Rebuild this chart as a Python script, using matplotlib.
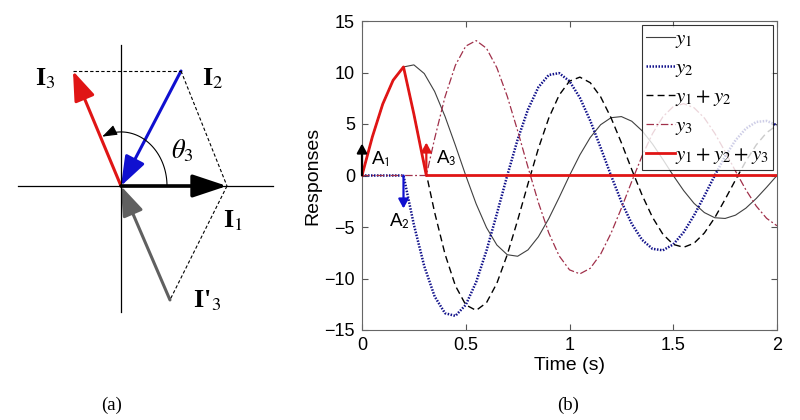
import numpy as np
import matplotlib.pyplot as plt
from matplotlib.patches import FancyArrowPatch
from matplotlib.path import Path

plt.rcParams['mathtext.fontset'] = 'stix'
plt.rcParams['font.family'] = ['Liberation Sans', 'DejaVu Sans']

# ---- panel (a): current phasors (units: |I1| = 1) ----
I1 = [1.0, 0.0]
I2 = [0.566, 1.085]
I3 = [-0.453, 1.085]
I3p = [0.462, -1.075]          # tail of I'3
h_axis = [-0.97, 1.43]
v_axis = [-1.19, 1.33]
theta_radii = [0.434, 0.51]
theta_end = 114                # degrees

# ---- panel (b): responses ----
t = [0.0, 0.05, 0.10, 0.15, 0.20, 0.25, 0.30, 0.35, 0.40, 0.45, 0.50,
     0.55, 0.60, 0.65, 0.70, 0.75, 0.80, 0.85, 0.90, 0.95, 1.00,
     1.05, 1.10, 1.15, 1.20, 1.25, 1.30, 1.35, 1.40, 1.45, 1.50,
     1.55, 1.60, 1.65, 1.70, 1.75, 1.80, 1.85, 1.90, 1.95, 2.00]
y1 = [0, 3.76, 6.94, 9.25, 10.54, 10.74, 9.90, 8.16, 5.74, 2.93, 0,
      -2.75, -5.06, -6.75, -7.69, -7.84, -7.22, -5.95, -4.19, -2.14, 0,
      2.00, 3.69, 4.93, 5.61, 5.72, 5.27, 4.34, 3.06, 1.56, 0,
      -1.46, -2.70, -3.60, -4.10, -4.17, -3.85, -3.17, -2.23, -1.14, 0]
y2 = [0, 0, 0, 0, 0, -4.78, -8.80, -11.74, -13.37, -13.63, -12.56,
      -10.35, -7.29, -3.71, 0, 3.49, 6.42, 8.57, 9.76, 9.94, 9.16,
      7.55, 5.32, 2.71, 0, -2.54, -4.69, -6.25, -7.12, -7.26, -6.69,
      -5.51, -3.88, -1.98, 0, 1.86, 3.42, 4.56, 5.20, 5.30, 4.88]
t3 = [0.0, 0.31, 0.35, 0.40, 0.45, 0.50, 0.55, 0.60, 0.65, 0.70, 0.75,
      0.80, 0.85, 0.90, 0.95, 1.00, 1.05, 1.10, 1.15, 1.20, 1.25,
      1.30, 1.35, 1.40, 1.45, 1.50, 1.55, 1.60, 1.65, 1.70, 1.75,
      1.80, 1.85, 1.90, 1.95, 2.00]
y3 = [0, 0, 3.58, 7.63, 10.70, 12.56, 13.10, 12.35, 10.46, 7.69, 4.35,
      0.80, -2.62, -5.57, -7.80, -9.16, -9.55, -9.01, -7.64, -5.61, -3.18,
      -0.58, 1.91, 4.06, 5.70, 6.69, 6.97, 6.58, 5.58, 4.10, 2.31,
      0.43, -1.39, -2.97, -4.16, -4.88]
t_tot = [0.0, 0.05, 0.10, 0.15, 0.20, 0.25, 0.31, 2.0]
y_tot = [0, 3.76, 6.94, 9.25, 10.54, 5.96, 0, 0]

imp_t = [0.0, 0.2, 0.31]
imp_h = [3.1, -3.2, 3.2]
imp_names = ['A$_{\\mathsf{1}}$', 'A$_{\\mathsf{2}}$', 'A$_{\\mathsf{3}}$']
imp_colors = ['black', '#1010d0', '#e01515']

fig = plt.figure(figsize=(8, 4.2), dpi=100)

# ================= (a) =================
axa = fig.add_axes([0, 1 - 330 / 420, 300 / 800, 300 / 420])
axa.set_xlim(-1.1415, 1.6887)
axa.set_ylim(-1.3585, 1.4717)
axa.axis('off')

axa.plot(h_axis, [0, 0], color='black', lw=0.9)
axa.plot([0, 0], v_axis, color='black', lw=0.9)

dash = dict(color='black', lw=0.8, ls=(0, (3, 2)))
axa.plot([I3[0], I2[0]], [I3[1], I2[1]], **dash)
axa.plot([I2[0], I1[0]], [I2[1], I1[1]], **dash)
axa.plot([I1[0], I3p[0]], [I1[1], I3p[1]], **dash)


def vec(ax, start, end, color, lw=2.2, hl=18, hw=6.5):
    a = FancyArrowPatch(start, end, arrowstyle='-|>,head_length=%g,head_width=%g' % (hl, hw),
                        mutation_scale=1, color=color, lw=lw, shrinkA=0, shrinkB=0)
    ax.add_patch(a)


vec(axa, I3p, (0, 0), '#606060')
vec(axa, (0, 0), I3, '#e01515')
vec(axa, I2, (0, 0), '#1010d0')
vec(axa, (0, 0), I1, 'black', lw=2.6, hl=21, hw=7)

phi = np.radians(np.linspace(0, theta_end, 60))
arc_pts = np.column_stack([theta_radii[0] * np.cos(phi), theta_radii[1] * np.sin(phi)])
arc = FancyArrowPatch(path=Path(arc_pts), arrowstyle='-|>,head_length=9,head_width=3.2',
                      mutation_scale=1, color='black', lw=0.8)
axa.add_patch(arc)

serif = dict(family='Liberation Serif', fontweight='bold', fontsize=19,
             ha='center', va='center')
axa.text(-0.71, 1.01, 'I$_3$', **serif)
axa.text(0.87, 1.01, 'I$_2$', **serif)
axa.text(1.06, -0.33, 'I$_1$', **serif)
axa.text(0.81, -1.085, "I'$_3$", **serif)
axa.text(0.575, 0.33, r'$\theta_3$', fontsize=19, ha='center', va='center')

# ================= (b) =================
axb = fig.add_axes([362 / 800, 1 - 330 / 420, 415 / 800, 309 / 420])

y12 = np.array(y1) + np.array(y2)
axb.plot(t, y1, color='#404040', lw=0.8, label='$y_1$')
axb.plot(t, y2, color='#10108a', lw=1.8, ls=(0, (0.6, 0.6)), label='$y_2$')
axb.plot(t, y12, color='black', lw=1.0, ls=(0, (5, 3)), label='$y_1+y_2$')
axb.plot(t3, y3, color='#a0304a', lw=0.9, ls=(0, (6, 2, 1.5, 2)), label='$y_3$')
axb.plot(t_tot, y_tot, color='#e01515', lw=2.0, label='$y_1+y_2+y_3$', zorder=5)

for ti, hi, col in zip(imp_t, imp_h, imp_colors):
    axb.annotate('', xy=(ti, hi), xytext=(ti, 0),
                 arrowprops=dict(arrowstyle='-|>,head_length=0.55,head_width=0.3',
                                 color=col, lw=1.6, shrinkA=0, shrinkB=0),
                 zorder=6)
axb.text(0.045, 1.6, imp_names[0], fontsize=13.5, va='center')
axb.text(0.13, -4.4, imp_names[1], fontsize=13.5, va='center')
axb.text(0.355, 1.7, imp_names[2], fontsize=13.5, va='center')

axb.set_xlim(0, 2)
axb.set_ylim(-15, 15)
axb.set_xticks([0, 0.5, 1, 1.5, 2])
axb.set_xticklabels(['0', '0.5', '1', '1.5', '2'])
axb.set_yticks([-15, -10, -5, 0, 5, 10, 15])
axb.tick_params(direction='in', top=True, right=True, length=4, labelsize=13,
                color='#555555', pad=5)
for s in axb.spines.values():
    s.set_color('#666666')
    s.set_linewidth(0.8)
axb.set_xlabel('Time (s)', fontsize=14, labelpad=2)
axb.set_ylabel('Responses', fontsize=14, labelpad=2)

leg = axb.legend(loc='upper right', fontsize=15, frameon=True, fancybox=False,
                 edgecolor='black', borderaxespad=0.2, handlelength=1.4,
                 handletextpad=0.0, labelspacing=0.38, borderpad=0.2)
leg.get_frame().set_linewidth(0.8)
leg.set_zorder(10)

fig.text(112 / 800, 1 - 405 / 420, '(a)', family='Liberation Serif', fontsize=13.5,
         ha='center', va='center')
fig.text(568 / 800, 1 - 405 / 420, '(b)', family='Liberation Serif', fontsize=13.5,
         ha='center', va='center')

fig.savefig('out.png', dpi=100)
